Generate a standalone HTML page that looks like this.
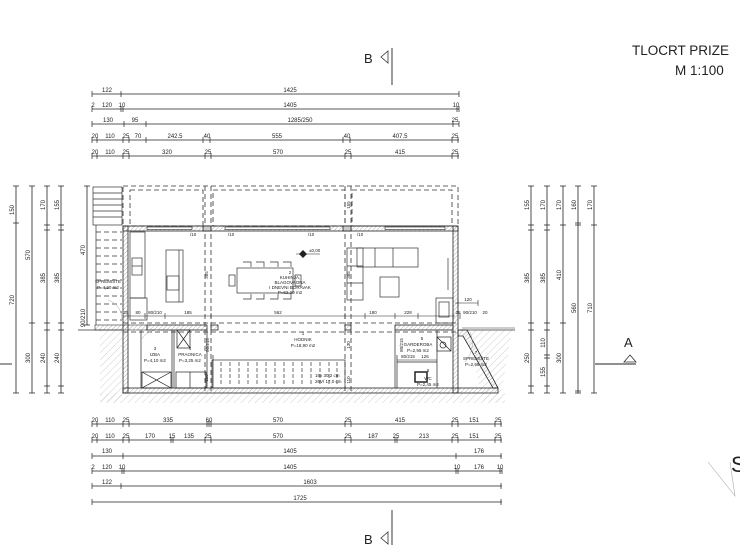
<!DOCTYPE html>
<html><head><meta charset="utf-8"><style>
html,body{margin:0;padding:0;background:#fff;width:740px;height:550px;overflow:hidden}
svg{display:block}
text{font-family:"Liberation Sans",sans-serif;fill:#222}
.d{font-size:6px}
.r{font-size:4.5px}
</style></head><body>
<svg width="740" height="550" viewBox="0 0 740 550" xmlns="http://www.w3.org/2000/svg">
<defs>
<pattern id="h" width="5" height="5" patternUnits="userSpaceOnUse" patternTransform="rotate(45)">
<line x1="0" y1="0" x2="0" y2="5" stroke="#bbb" stroke-width="0.7"/></pattern>
<pattern id="w" width="3" height="3" patternUnits="userSpaceOnUse" patternTransform="rotate(45)">
<line x1="0" y1="0" x2="0" y2="3" stroke="#777" stroke-width="0.6"/></pattern>
</defs>

<!-- title -->
<text x="632" y="55" font-size="13.5">TLOCRT PRIZE</text>
<text x="675" y="75" font-size="13.5">M 1:100</text>

<!-- section B markers -->
<text x="364" y="63" font-size="13">B</text>
<polygon points="388,51 388,63 381,57" fill="none" stroke="#333" stroke-width="0.8"/>
<line x1="392" y1="48" x2="392" y2="85" stroke="#222" stroke-width="0.9"/>
<text x="364" y="544" font-size="13">B</text>
<polygon points="388,532 388,544 381,538" fill="none" stroke="#333" stroke-width="0.8"/>
<line x1="392" y1="510" x2="392" y2="545" stroke="#222" stroke-width="0.9"/>

<!-- A marker -->
<text x="624" y="347" font-size="13">A</text>
<polygon points="624,362 636,362 630,355" fill="none" stroke="#333" stroke-width="0.8"/>
<line x1="595" y1="364" x2="636" y2="364" stroke="#222" stroke-width="0.9"/>
<line x1="0" y1="364" x2="12" y2="364" stroke="#222" stroke-width="0.9"/>

<!-- S -->
<text x="731" y="472" font-size="22">S</text>
<polyline points="708,462 735,496 730,462" fill="none" stroke="#aaa" stroke-width="0.6"/>

<!-- TOP DIMENSIONS -->
<g stroke="#222" stroke-width="0.8">
<line x1="92" y1="94" x2="459" y2="94"/>
<line x1="92" y1="109" x2="459" y2="109"/>
<line x1="92" y1="124" x2="459" y2="124"/>
<line x1="92" y1="140" x2="459" y2="140"/>
<line x1="92" y1="156" x2="459" y2="156"/>
<g stroke-width="0.7">
<path d="M92 91v6M121 91v6M459 91v6"/>
<path d="M92 106v6M121 106v6M123 106v6M457 106v6M459 106v6"/>
<path d="M92 121v6M124 121v6M146 121v6M453 121v6M459 121v6"/>
<path d="M92 137v6M97 137v6M123 137v6M129 137v6M146 137v6M203 137v6M210 137v6M343 137v6M350 137v6M452 137v6M458 137v6"/>
<path d="M92 153v6M97 153v6M123 153v6M129 153v6M205 153v6M211 153v6M345 153v6M351 153v6M452 153v6M458 153v6"/>
</g></g>
<g class="d" text-anchor="middle">
<text x="107" y="92">122</text><text x="290" y="92">1425</text>
<text x="93" y="107">2</text><text x="107" y="107">120</text><text x="122" y="107">10</text><text x="290" y="107">1405</text><text x="456" y="107">10</text>
<text x="108" y="122">130</text><text x="135" y="122">95</text><text x="300" y="122">1285/250</text><text x="455" y="122">25</text>
<text x="95" y="138">20</text><text x="110" y="138">110</text><text x="126" y="138">25</text><text x="138" y="138">70</text><text x="175" y="138">242.5</text><text x="207" y="138">40</text><text x="277" y="138">555</text><text x="347" y="138">40</text><text x="400" y="138">407.5</text><text x="455" y="138">25</text>
<text x="95" y="154">20</text><text x="110" y="154">110</text><text x="126" y="154">25</text><text x="167" y="154">320</text><text x="208" y="154">25</text><text x="278" y="154">570</text><text x="348" y="154">25</text><text x="400" y="154">415</text><text x="455" y="154">25</text>
</g>

<!-- BOTTOM DIMENSIONS -->
<g stroke="#222" stroke-width="0.8">
<line x1="92" y1="424" x2="502" y2="424"/>
<line x1="92" y1="440" x2="502" y2="440"/>
<line x1="92" y1="456" x2="502" y2="456"/>
<line x1="92" y1="471" x2="502" y2="471"/>
<line x1="92" y1="486" x2="502" y2="486"/>
<line x1="92" y1="502" x2="502" y2="502"/>
<g stroke-width="0.7">
<path d="M92 421v6M97 421v6M123 421v6M129 421v6M207 421v6M209 421v6M211 421v6M345 421v6M351 421v6M452 421v6M458 421v6M495 421v6M501 421v6"/>
<path d="M92 437v6M97 437v6M123 437v6M129 437v6M171 437v6M173 437v6M205 437v6M211 437v6M345 437v6M351 437v6M395 437v6M397 437v6M452 437v6M458 437v6M495 437v6M501 437v6"/>
<path d="M92 453v6M123 453v6M456 453v6M501 453v6"/>
<path d="M92 468v6M122 468v6M124 468v6M456 468v6M458 468v6M500 468v6M502 468v6"/>
<path d="M92 483v6M121 483v6M501 483v6"/>
<path d="M92 499v6M501 499v6"/>
</g></g>
<g class="d" text-anchor="middle">
<text x="95" y="422">20</text><text x="110" y="422">110</text><text x="126" y="422">25</text><text x="168" y="422">335</text><text x="209" y="422">60</text><text x="278" y="422">570</text><text x="348" y="422">25</text><text x="400" y="422">415</text><text x="455" y="422">25</text><text x="474" y="422">151</text><text x="498" y="422">25</text>
<text x="95" y="438">20</text><text x="110" y="438">110</text><text x="126" y="438">25</text><text x="150" y="438">170</text><text x="172" y="438">15</text><text x="189" y="438">135</text><text x="208" y="438">25</text><text x="278" y="438">570</text><text x="348" y="438">25</text><text x="373" y="438">187</text><text x="396" y="438">25</text><text x="424" y="438">213</text><text x="455" y="438">25</text><text x="474" y="438">151</text><text x="498" y="438">25</text>
<text x="107" y="453">130</text><text x="290" y="453">1405</text><text x="479" y="453">176</text>
<text x="93" y="469">2</text><text x="107" y="469">120</text><text x="122" y="469">10</text><text x="290" y="469">1405</text><text x="457" y="469">10</text><text x="479" y="469">176</text><text x="500" y="469">10</text>
<text x="107" y="484">122</text><text x="310" y="484">1603</text>
<text x="300" y="500">1725</text>
</g>

<!-- LEFT VERTICAL DIMS -->
<g stroke="#222" stroke-width="0.8">
<line x1="16" y1="186" x2="16" y2="393"/>
<line x1="32" y1="186" x2="32" y2="393"/>
<line x1="47" y1="186" x2="47" y2="393"/>
<line x1="61" y1="186" x2="61" y2="393"/>
<line x1="87" y1="186" x2="87" y2="325"/>
<g stroke-width="0.7">
<path d="M13 186h6M13 223h6M13 393h6"/>
<path d="M29 186h6M29 323h6M29 393h6"/>
<path d="M44 186h6M44 225h6M44 230h6M44 323h6M44 330h6M44 386h6M44 393h6"/>
<path d="M58 186h6M58 225h6M58 230h6M58 323h6M58 330h6M58 386h6M58 393h6"/>
<path d="M84 186h6M84 325h6"/>
</g></g>
<g class="d" text-anchor="middle">
<text transform="translate(14,210) rotate(-90)">150</text>
<text transform="translate(14,300) rotate(-90)">720</text>
<text transform="translate(30,255) rotate(-90)">570</text>
<text transform="translate(30,358) rotate(-90)">300</text>
<text transform="translate(45,205) rotate(-90)">170</text>
<text transform="translate(45,278) rotate(-90)">385</text>
<text transform="translate(45,358) rotate(-90)">240</text>
<text transform="translate(59,205) rotate(-90)">155</text>
<text transform="translate(59,278) rotate(-90)">385</text>
<text transform="translate(59,358) rotate(-90)">240</text>
<text transform="translate(85,250) rotate(-90)">470</text>
<text transform="translate(85,318) rotate(-90)">90/210</text>
</g>

<!-- RIGHT VERTICAL DIMS -->
<g stroke="#222" stroke-width="0.8">
<line x1="531" y1="186" x2="531" y2="393"/>
<line x1="547" y1="186" x2="547" y2="393"/>
<line x1="563" y1="186" x2="563" y2="393"/>
<line x1="578" y1="186" x2="578" y2="393"/>
<line x1="594" y1="186" x2="594" y2="393"/>
<g stroke-width="0.7">
<path d="M528 186h6M528 225h6M528 230h6M528 323h6M528 330h6M528 386h6M528 393h6"/>
<path d="M544 186h6M544 225h6M544 230h6M544 323h6M544 330h6M544 355h6M544 358h6M544 386h6M544 393h6"/>
<path d="M560 186h6M560 225h6M560 323h6M560 393h6"/>
<path d="M575 186h6M575 223h6M575 225h6M575 391h6M575 393h6"/>
<path d="M591 186h6M591 225h6M591 393h6"/>
</g></g>
<g class="d" text-anchor="middle">
<text transform="translate(529,205) rotate(-90)">155</text><text transform="translate(529,278) rotate(-90)">385</text><text transform="translate(529,358) rotate(-90)">250</text>
<text transform="translate(545,205) rotate(-90)">170</text><text transform="translate(545,278) rotate(-90)">385</text><text transform="translate(545,343) rotate(-90)">110</text><text transform="translate(545,372) rotate(-90)">155</text>
<text transform="translate(561,205) rotate(-90)">170</text><text transform="translate(561,275) rotate(-90)">410</text><text transform="translate(561,358) rotate(-90)">300</text>
<text transform="translate(576,205) rotate(-90)">160</text><text transform="translate(576,308) rotate(-90)">560</text>
<text transform="translate(592,205) rotate(-90)">170</text><text transform="translate(592,308) rotate(-90)">710</text>
</g>

<!-- ground hatch -->
<rect x="100" y="330" width="22" height="72" fill="url(#h)"/>
<rect x="100" y="393" width="405" height="10" fill="url(#h)"/>
<polygon points="460,330 512,330 500,402 483,402 470,345" fill="url(#h)"/>
<line x1="78" y1="330" x2="122" y2="330" stroke="#333" stroke-width="0.8"/>
<line x1="460" y1="330" x2="515" y2="330" stroke="#333" stroke-width="0.8"/>
<line x1="462" y1="328" x2="515" y2="328" stroke="#333" stroke-width="0.6"/>

<!-- external stair left -->
<g stroke="#333" stroke-width="0.7" fill="none">
<rect x="93" y="187" width="29" height="38"/>
<path d="M93 193h29M93 199h29M93 205h29M93 211h29M93 217h29"/>
<line x1="96" y1="225" x2="96" y2="325"/>
<path stroke-dasharray="5,3" d="M96 232h26M96 240h26M96 248h26M96 256h26M96 264h26M96 272h26M96 280h26M96 288h26M96 296h26M96 304h26M96 312h26M96 320h26"/>
</g>
<rect x="95" y="325" width="52" height="5" fill="url(#w)" stroke="#333" stroke-width="0.6"/>
<text class="r" x="108" y="283" text-anchor="middle">SPREMIŠTE</text>
<text class="r" x="108" y="289" text-anchor="middle">P=4,20 m2</text>

<!-- dashed upper outlines -->
<g stroke="#333" stroke-width="0.8" fill="none" stroke-dasharray="5,3">
<rect x="123" y="186" width="335" height="40"/>
<rect x="130" y="190" width="73" height="36"/>
<rect x="213" y="190" width="132" height="36"/>
<rect x="352" y="190" width="100" height="36"/>
<line x1="205" y1="186" x2="205" y2="393"/>
<line x1="211" y1="186" x2="211" y2="393"/>
<line x1="345" y1="186" x2="345" y2="393"/>
<line x1="351" y1="186" x2="351" y2="393"/>
<line x1="123" y1="323" x2="458" y2="323"/>
<line x1="123" y1="332" x2="458" y2="332"/>
</g>

<!-- walls -->
<g stroke="#222" stroke-width="0.8">
<rect x="123" y="226" width="335" height="5" fill="url(#w)"/>
<rect x="123" y="226" width="5" height="167" fill="url(#w)"/>
<rect x="453" y="226" width="5" height="167" fill="url(#w)"/>
<rect x="123" y="388" width="375" height="5" fill="url(#w)"/>
<rect x="147" y="325" width="60" height="5" fill="url(#w)"/>
<rect x="211" y="325" width="7" height="5" fill="url(#w)"/>
<rect x="345" y="325" width="6" height="5" fill="url(#w)"/>
<rect x="395" y="325" width="58" height="5" fill="url(#w)"/>
<polygon points="458,330 467,330 498,388 493,388 463,336 458,336" fill="url(#w)"/>
<rect x="203" y="226" width="8" height="5" fill="#ccc"/>
<rect x="343" y="226" width="8" height="5" fill="#ccc"/>
</g>
<!-- windows -->
<g stroke="#222" stroke-width="0.6" fill="#fff">
<rect x="147" y="227" width="45" height="2.5"/>
<rect x="225" y="227" width="105" height="2.5"/>
<rect x="385" y="227" width="60" height="2.5"/>
</g>
<g class="r"><text x="190" y="236">/10</text><text x="228" y="236">/10</text><text x="308" y="236">/10</text><text x="357" y="236">/10</text></g>

<!-- interior partitions lower -->
<g stroke="#222" stroke-width="0.7" fill="none">
<line x1="141" y1="330" x2="141" y2="388"/>
<line x1="172" y1="330" x2="172" y2="388"/>
<line x1="174" y1="330" x2="174" y2="388"/>
<line x1="207" y1="330" x2="207" y2="388"/>
<line x1="213" y1="355" x2="213" y2="388"/>
<line x1="395" y1="330" x2="395" y2="388"/>
<line x1="397" y1="355" x2="397" y2="388"/>
<line x1="437" y1="330" x2="437" y2="388"/>
<line x1="397" y1="362" x2="437" y2="362"/>
<rect x="142" y="372" width="29" height="16"/>
<path d="M142 372l29 16M171 372l-29 16"/>
<rect x="177" y="330" width="13" height="18"/>
<path d="M177 330l13 18M190 330l-13 18"/>
<rect x="176" y="372" width="30" height="16"/>
<line x1="190" y1="372" x2="190" y2="388"/>
<rect x="415" y="372" width="12" height="10" stroke-width="1.5"/>
<circle cx="443" cy="345" r="3"/>
<rect x="437" y="337" width="14" height="14"/>
<path d="M437 337l14 14"/>
</g>
<!-- stairs lower -->
<g stroke="#333" stroke-width="0.7">
<rect x="212" y="360" width="133" height="28" fill="none"/>
<path stroke-dasharray="4,2" d="M221 362v24M230 362v24M239 362v24M248 362v24M257 362v24M266 362v24M275 362v24M284 362v24M293 362v24M302 362v24M311 362v24M320 362v24M329 362v24M337 362v24"/>
</g>
<text class="r" x="315" y="377">16x 30,2 cm</text>
<text class="r" x="315" y="383">26V/ 17,0 cm</text>

<!-- door arcs -->
<g stroke="#aaa" stroke-width="0.5" fill="none">
<path d="M141 340a20 20 0 0 1 16 -10"/>
<path d="M470 332a28 28 0 0 1 -5 30"/>
<path d="M108 300a20 20 0 0 1 14 20"/>
</g>

<!-- kitchen furniture -->
<g stroke="#333" stroke-width="0.7" fill="none">
<rect x="130" y="232" width="15" height="66"/>
<rect x="132" y="258" width="10" height="17"/>
<line x1="132" y1="266" x2="142" y2="266"/>
<rect x="130" y="298" width="17" height="22"/>
<rect x="166" y="250" width="17" height="52"/>
<line x1="179" y1="250" x2="179" y2="302"/>
<rect x="167" y="276" width="12" height="14"/>
<!-- table -->
<rect x="237" y="268" width="56" height="25"/>
<rect x="229" y="275" width="6" height="11"/>
<rect x="295" y="275" width="6" height="11"/>
<path d="M243 262h8v5M256 262h8v5M270 262h8v5M283 262h8v5"/>
<path d="M243 299h8v-5M256 299h8v-5M270 299h8v-5M283 299h8v-5"/>
<!-- sofa -->
<rect x="357" y="248" width="61" height="19"/>
<path d="M375 248v19M393 248v19"/>
<rect x="347" y="248" width="16" height="52"/>
<path d="M347 266h16M347 283h16"/>
<rect x="380" y="277" width="19" height="20"/>
<rect x="436" y="298" width="17" height="25"/>
<rect x="439" y="302" width="10" height="15"/>
<line x1="448" y1="258" x2="448" y2="290"/>
</g>
<polygon points="303,250 307,254 303,258 299,254" fill="#222"/>
<line x1="296" y1="254" x2="320" y2="254" stroke="#222" stroke-width="0.6"/>
<text class="r" x="309" y="252">±0,00</text>

<!-- room labels -->
<g class="r" text-anchor="middle">
<text x="290" y="274">2</text><text x="290" y="279">KUHINJA,</text><text x="290" y="284">BLAGOVAONA</text><text x="290" y="289">I DNEVNI BORAVAK</text><text x="290" y="294">P=62,20 m2</text>
<text x="303" y="335">1</text><text x="303" y="341">HODNIK</text><text x="303" y="347">P=18,90 m2</text>
<text x="155" y="350">3</text><text x="155" y="356">IZBA</text><text x="155" y="362">P=4,10 m2</text>
<text x="190" y="350">4</text><text x="190" y="356">PRAONICA</text><text x="190" y="362">P=3,25 m2</text>
<text x="422" y="340">5</text><text x="418" y="346">GARDEROBA</text><text x="418" y="352">P=2,95 m2</text>
<text x="476" y="354">7</text><text x="476" y="360">SPREMIŠTE</text><text x="476" y="366">P=2,95 m2</text>
<text x="428" y="372">6</text><text x="428" y="380">WC</text><text x="428" y="386">P=2,45 m2</text>
</g>

<!-- inner dimension line -->
<g stroke="#222" stroke-width="0.6">
<line x1="123" y1="316" x2="455" y2="316"/>
<path d="M128 313v6M145 313v6M165 313v6M211 313v6M345 313v6M365 313v6M395 313v6M418 313v6M453 313v6M460 313v6"/>
<line x1="455" y1="303" x2="478" y2="303"/>
<path d="M458 300v6M478 300v6"/>
<line x1="397" y1="360" x2="437" y2="360"/>
</g>
<g class="r" text-anchor="middle">
<text x="126" y="314">25</text><text x="138" y="314">80</text><text x="155" y="314">80/210</text><text x="188" y="314">185</text><text x="278" y="314">562</text><text x="373" y="314">180</text><text x="408" y="314">228</text><text x="458" y="314">25</text><text x="470" y="314">90/210</text><text x="485" y="314">20</text>
<text x="468" y="301">120</text>
<text x="408" y="358">80/215</text><text x="425" y="358">126</text>
<text transform="translate(209,345) rotate(-90)">80/215</text>
<text transform="translate(403,345) rotate(-90)">80/215</text>
<text transform="translate(350,275) rotate(-90)">385</text>
<text transform="translate(208,275) rotate(-90)">385</text>
<text transform="translate(350,345) rotate(-90)">130</text>
<text transform="translate(350,205) rotate(-90)">155</text>
<text transform="translate(350,380) rotate(-90)">110</text>
<text transform="translate(208,378) rotate(-90)">110</text>
</g>
</svg>
</body></html>
